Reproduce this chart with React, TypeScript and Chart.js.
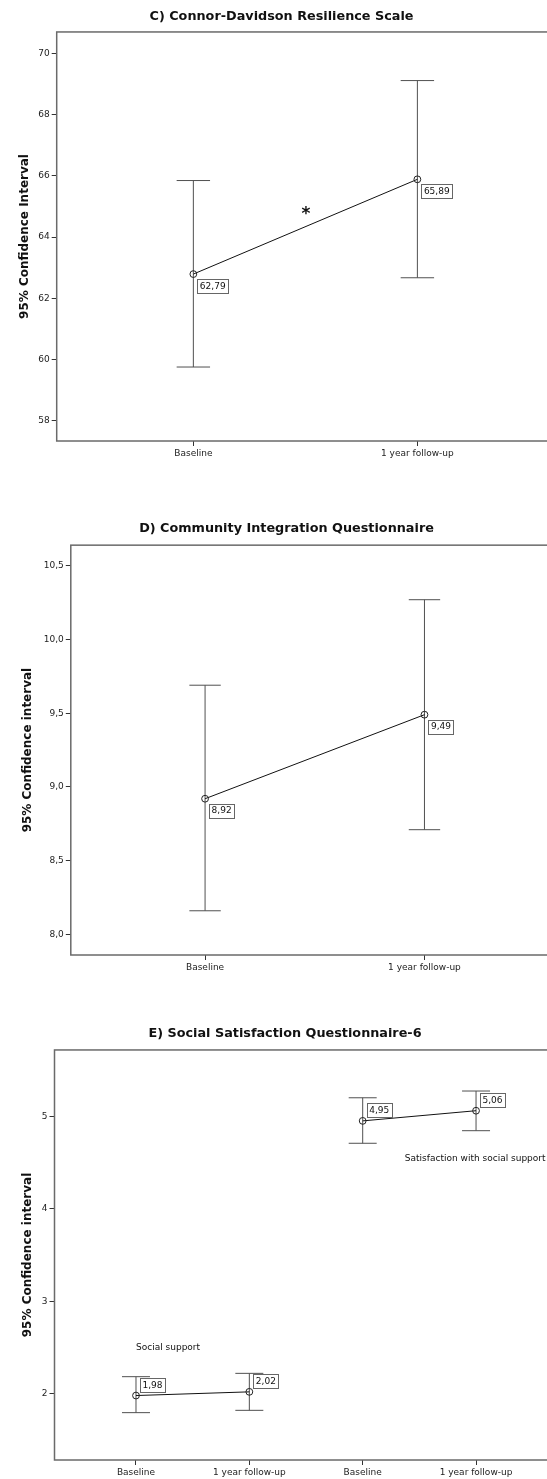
import React, { useEffect, useRef } from "react";
import { Chart, registerables } from "chart.js";

Chart.register(...registerables);

// ---------- C) Connor-Davidson Resilience Scale ----------
const cCategories = ["Baseline", "1 year follow-up"];
const cPositions = [1, 2];
const cMeans = [62.79, 65.89];
const cLower = [59.75, 62.67];
const cUpper = [65.85, 69.12];
const cYTicks = [58, 60, 62, 64, 66, 68, 70];
const cYTickLabels = ["58", "60", "62", "64", "66", "68", "70"];

// ---------- D) Community Integration Questionnaire ----------
const dCategories = ["Baseline", "1 year follow-up"];
const dPositions = [1, 2];
const dMeans = [8.92, 9.49];
const dLower = [8.16, 8.71];
const dUpper = [9.69, 10.27];
const dYTicks = [8.0, 8.5, 9.0, 9.5, 10.0, 10.5];
const dYTickLabels = ["8,0", "8,5", "9,0", "9,5", "10,0", "10,5"];

// ---------- E) Social Satisfaction Questionnaire-6 ----------
const eCategories = ["Baseline", "1 year follow-up", "Baseline", "1 year follow-up"];
const eGroupNames = ["Social support", "Satisfaction with social support"];
const eSocialPositions = [1, 2];
const eSocialMeans = [1.98, 2.02];
const eSocialLower = [1.795, 1.82];
const eSocialUpper = [2.184, 2.22];
const eSatisPositions = [3, 4];
const eSatisMeans = [4.95, 5.06];
const eSatisLower = [4.708, 4.844];
const eSatisUpper = [5.2, 5.273];
const eYTicks = [2, 3, 4, 5];
const eYTickLabels = ["2", "3", "4", "5"];

const FONT = "'DejaVu Sans', sans-serif";

type Series = { xs: number[]; means: number[]; lower: number[]; upper: number[] };
type Note = { x: number; y: number; text: string; size: number; bold: boolean; align: CanvasTextAlign };

type Spec = {
  top: number;
  width: number;
  height: number;
  title: string;
  titlePadTop: number;
  titlePadBottom: number;
  yTitle: string;
  yTitlePad: number;
  yWidth: number;
  xHeight: number;
  xMin: number;
  xMax: number;
  yMin: number;
  yMax: number;
  xTicks: number[];
  categories: string[];
  yTicks: number[];
  yTickLabels: string[];
  series: Series[];
  capHalf: number;
  labelAbove: boolean;
  notes: Note[];
};

function fmt(v: number) {
  return v.toFixed(2).replace(".", ",");
}

function ErrorChart({ spec }: { spec: Spec }) {
  const ref = useRef<HTMLCanvasElement | null>(null);
  useEffect(() => {
    const canvas = ref.current;
    if (!canvas) return;
    const datasets: any[] = [];
    spec.series.forEach((s) => {
      datasets.push({
        type: "line",
        data: s.xs.map((x, i) => ({ x, y: s.means[i] })),
        borderColor: "#111",
        borderWidth: 1,
        pointStyle: "circle",
        pointRadius: 3.4,
        pointBorderWidth: 1,
        pointBorderColor: "#222",
        pointBackgroundColor: "rgba(0,0,0,0)",
        order: 0,
      });
    });
    spec.series.forEach((s) => {
      s.xs.forEach((x, i) => {
        datasets.push({
          type: "line",
          data: [
            { x, y: s.lower[i] },
            { x, y: s.upper[i] },
          ],
          borderColor: "#505050",
          borderWidth: 1,
          pointStyle: "line",
          pointRadius: spec.capHalf,
          pointBorderWidth: 1,
          pointBorderColor: "#505050",
          order: 1,
        });
      });
    });

    const annot = {
      id: "annot",
      afterDatasetsDraw(chart: any) {
        const ctx = chart.ctx as CanvasRenderingContext2D;
        const { left, top, right, bottom } = chart.chartArea;
        const xs = chart.scales.x;
        const ys = chart.scales.y;
        ctx.save();
        ctx.strokeStyle = "#6a6a6a";
        ctx.lineWidth = 1.5;
        ctx.strokeRect(left, top, right - left + 5, bottom - top);
        // value labels
        ctx.font = `9px ${FONT}`;
        ctx.textBaseline = "middle";
        ctx.textAlign = "left";
        spec.series.forEach((s) => {
          s.xs.forEach((x, i) => {
            const px = xs.getPixelForValue(x);
            const py = ys.getPixelForValue(s.means[i]);
            const t = fmt(s.means[i]);
            const w = ctx.measureText(t).width + 5;
            const h = 13.5;
            const bx = px + 4;
            const by = spec.labelAbove ? py - 4 - h : py + 5;
            ctx.fillStyle = "#fff";
            ctx.fillRect(bx, by, w, h);
            ctx.strokeStyle = "#666";
            ctx.lineWidth = 1;
            ctx.strokeRect(Math.round(bx) + 0.5, Math.round(by) + 0.5, Math.round(w), Math.round(h));
            ctx.fillStyle = "#111";
            ctx.fillText(t, bx + 2.5, by + h / 2 + 0.5);
          });
        });
        spec.notes.forEach((n) => {
          ctx.font = `${n.bold ? "bold " : ""}${n.size}px ${FONT}`;
          ctx.fillStyle = "#111";
          ctx.textAlign = n.align;
          ctx.textBaseline = "middle";
          ctx.fillText(n.text, xs.getPixelForValue(n.x), ys.getPixelForValue(n.y));
        });
        ctx.restore();
      },
    };

    const chart = new Chart(canvas, {
      type: "line",
      data: { datasets },
      plugins: [annot],
      options: {
        animation: false,
        responsive: false,
        maintainAspectRatio: false,
        layout: { padding: 0, autoPadding: false },
        plugins: {
          legend: { display: false },
          tooltip: { enabled: false },
          title: {
            display: true,
            text: spec.title,
            color: "#111",
            font: { family: FONT, size: 12.8, weight: "bold" },
            padding: { top: spec.titlePadTop, bottom: spec.titlePadBottom },
          },
        },
        scales: {
          x: {
            type: "linear",
            min: spec.xMin,
            max: spec.xMax,
            afterBuildTicks: (s: any) => {
              s.ticks = spec.xTicks.map((v) => ({ value: v }));
            },
            afterFit: (s: any) => {
              s.height = spec.xHeight;
              s.paddingLeft = 0;
              s.paddingRight = 0;
            },
            ticks: {
              autoSkip: false,
              maxRotation: 0,
              padding: 2.5,
              color: "#222",
              font: { family: FONT, size: 9 },
              callback: (_v: any, i: number) => spec.categories[i],
            },
            grid: { drawOnChartArea: false, drawTicks: true, tickLength: 5, color: "#333" },
            border: { display: false },
          },
          y: {
            type: "linear",
            min: spec.yMin,
            max: spec.yMax,
            afterBuildTicks: (s: any) => {
              s.ticks = spec.yTicks.map((v) => ({ value: v }));
            },
            afterFit: (s: any) => {
              s.width = spec.yWidth;
              s.paddingTop = 0;
              s.paddingBottom = 0;
            },
            ticks: {
              autoSkip: false,
              padding: 2,
              color: "#222",
              font: { family: FONT, size: 9 },
              callback: (_v: any, i: number) => spec.yTickLabels[i],
            },
            grid: { drawOnChartArea: false, drawTicks: true, tickLength: 5, color: "#333" },
            border: { display: false },
            title: {
              display: true,
              text: spec.yTitle,
              color: "#111",
              font: { family: FONT, size: 12, weight: "bold" },
              padding: { top: spec.yTitlePad, bottom: 0 },
            },
          },
        },
      } as any,
    });
    return () => chart.destroy();
  }, [spec]);
  return (
    <div style={{ position: "absolute", left: 0, top: spec.top, width: spec.width, height: spec.height }}>
      <canvas
        ref={ref}
        width={spec.width}
        height={spec.height}
        style={{ display: "block", width: spec.width, height: spec.height }}
      />
    </div>
  );
}

const specC: Spec = {
  top: 0,
  width: 563,
  height: 475,
  title: "C) Connor-Davidson Resilience Scale",
  titlePadTop: 9.2,
  titlePadBottom: 7.4,
  yTitle: "95% Confidence Interval",
  yTitlePad: 17.8,
  yWidth: 56.7,
  xHeight: 34,
  xMin: 0.39,
  xMax: 2.65,
  yMin: 57.33,
  yMax: 70.71,
  xTicks: cPositions,
  categories: cCategories,
  yTicks: cYTicks,
  yTickLabels: cYTickLabels,
  series: [{ xs: cPositions, means: cMeans, lower: cLower, upper: cUpper }],
  capHalf: 16.7,
  labelAbove: false,
  notes: [{ x: 1.503, y: 64.73, text: "*", size: 17, bold: true, align: "center" }],
};

const specD: Spec = {
  top: 475,
  width: 573,
  height: 510,
  title: "D) Community Integration Questionnaire",
  titlePadTop: 45.7,
  titlePadBottom: 9.1,
  yTitle: "95% Confidence interval",
  yTitlePad: 20.8,
  yWidth: 70.8,
  xHeight: 30,
  xMin: 0.388,
  xMax: 2.677,
  yMin: 7.86,
  yMax: 10.64,
  xTicks: dPositions,
  categories: dCategories,
  yTicks: dYTicks,
  yTickLabels: dYTickLabels,
  series: [{ xs: dPositions, means: dMeans, lower: dLower, upper: dUpper }],
  capHalf: 15.7,
  labelAbove: false,
  notes: [],
};

const specE: Spec = {
  top: 985,
  width: 570,
  height: 494,
  title: "E) Social Satisfaction Questionnaire-6",
  titlePadTop: 40.7,
  titlePadBottom: 8.9,
  yTitle: "95% Confidence interval",
  yTitlePad: 20.3,
  yWidth: 54.5,
  xHeight: 19,
  xMin: 0.281,
  xMax: 4.829,
  yMin: 1.283,
  yMax: 5.717,
  xTicks: [...eSocialPositions, ...eSatisPositions],
  categories: eCategories,
  yTicks: eYTicks,
  yTickLabels: eYTickLabels,
  series: [
    { xs: eSocialPositions, means: eSocialMeans, lower: eSocialLower, upper: eSocialUpper },
    { xs: eSatisPositions, means: eSatisMeans, lower: eSatisLower, upper: eSatisUpper },
  ],
  capHalf: 14,
  labelAbove: true,
  notes: [
    { x: 1, y: 2.5, text: eGroupNames[0], size: 9, bold: false, align: "left" },
    { x: 3.372, y: 4.546, text: eGroupNames[1], size: 9, bold: false, align: "left" },
  ],
};

export default function App() {
  return (
    <div style={{ position: "absolute", left: 0, top: 0, width: 547, height: 1479, overflow: "hidden", background: "#fff" }}>
      <ErrorChart spec={specC} />
      <ErrorChart spec={specD} />
      <ErrorChart spec={specE} />
    </div>
  );
}
